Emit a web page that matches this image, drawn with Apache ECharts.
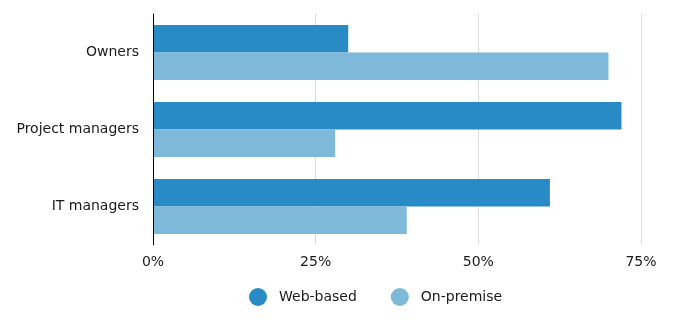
<!DOCTYPE html>
<html><head><meta charset="utf-8">
<script src="https://cdn.jsdelivr.net/npm/echarts@6/dist/echarts.min.js"></script>
<style>html,body{margin:0;padding:0;background:#fff}#c{width:675px;height:330px}</style>
</head><body><div id="c"></div>
<script>
const categories = ["Owners", "Project managers", "IT managers"];
const webBased = [30, 72, 61];
const onPremise = [70, 28, 39];
const xTicks = [0, 25, 50, 75];

const chart = echarts.init(document.getElementById('c'), null, {renderer: 'canvas'});
const font = 'DejaVu Sans';
chart.setOption({
  animation: false,
  textStyle: {fontFamily: font},
  grid: {left: 153, right: 34, top: 14, bottom: 85, containLabel: false},
  legend: {
    left: 244, top: 283, icon: 'circle', itemWidth: 18, itemHeight: 18, itemGap: 34,
    textStyle: {fontFamily: font, fontSize: 14, color: '#1a1a1a', padding: [0, 0, 0, 7]},
    data: ['Web-based', 'On-premise']
  },
  xAxis: {
    type: 'value', min: xTicks[0], max: xTicks[xTicks.length - 1], interval: 25,
    axisLine: {show: false}, axisTick: {show: false},
    axisLabel: {formatter: '{value}%', fontFamily: font, fontSize: 14, color: '#1a1a1a', margin: 10},
    splitLine: {show: true, lineStyle: {color: '#dddddd', width: 1}}
  },
  yAxis: {
    type: 'category', data: categories, inverse: true, z: 10,
    axisLine: {show: true, lineStyle: {color: '#000', width: 1}},
    axisTick: {show: false},
    axisLabel: {fontFamily: font, fontSize: 14, color: '#1a1a1a', margin: 14},
    splitLine: {show: false}
  },
  series: [
    {name: 'Web-based', type: 'bar', data: webBased, barGap: 0, barCategoryGap: '28.6%',
     itemStyle: {color: '#298bc6'}},
    {name: 'On-premise', type: 'bar', data: onPremise, barGap: 0, barCategoryGap: '28.6%',
     itemStyle: {color: '#7eb9d9'}}
  ]
});
</script></body></html>
